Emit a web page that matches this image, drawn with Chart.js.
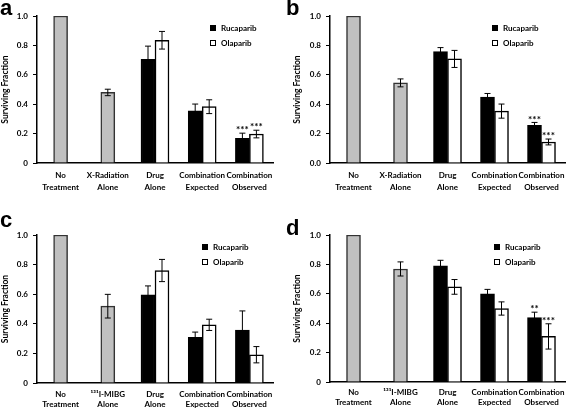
<!DOCTYPE html>
<html>
<head>
<meta charset="utf-8">
<script src="https://cdn.jsdelivr.net/npm/chart.js@4.4.1/dist/chart.umd.min.js"></script>
<style>
  html, body { margin: 0; padding: 0; background: #fff; }
  #wrap { position: relative; width: 568px; height: 409px; overflow: hidden; }
  canvas { position: absolute; }
</style>
</head>
<body>
<div id="wrap">
  <canvas id="pa" width="284" height="205" style="left:0;top:0"></canvas>
  <canvas id="pb" width="284" height="205" style="left:284px;top:0"></canvas>
  <canvas id="pc" width="284" height="204" style="left:0;top:205px"></canvas>
  <canvas id="pd" width="284" height="204" style="left:284px;top:205px"></canvas>
</div>
<script>
// categories
const labelsXR = [["No", "Treatment"], ["X-Radiation", "Alone"], ["Drug", "Alone"], ["Combination", "Expected"], ["Combination", "Observed"]];
const labelsMIBG = [["No", "Treatment"], ["¹³¹I-MIBG", "Alone"], ["Drug", "Alone"], ["Combination", "Expected"], ["Combination", "Observed"]];

// panel a
const aAlone = [1.0, 0.48, null, null, null];
const aAloneErr = [0, 0.022, 0, 0, 0];
const aRuca = [null, null, 0.705, 0.355, 0.168];
const aRucaErr = [0, 0, 0.09, 0.046, 0.035];
const aOla = [null, null, 0.835, 0.383, 0.197];
const aOlaErr = [0, 0, 0.06, 0.047, 0.026];
const aRucaStars = ["", "", "", "", "***"];
const aOlaStars = ["", "", "", "", "***"];

// panel b
const bAlone = [1.0, 0.545, null, null, null];
const bAloneErr = [0, 0.027, 0, 0, 0];
const bRuca = [null, null, 0.758, 0.448, 0.256];
const bRucaErr = [0, 0, 0.027, 0.025, 0.02];
const bOla = [null, null, 0.708, 0.353, 0.143];
const bOlaErr = [0, 0, 0.058, 0.048, 0.02];
const bRucaStars = ["", "", "", "", "***"];
const bOlaStars = ["", "", "", "", "***"];

// panel c
const cAlone = [1.0, 0.519, null, null, null];
const cAloneErr = [0, 0.08, 0, 0, 0];
const cRuca = [null, null, 0.596, 0.308, 0.357];
const cRucaErr = [0, 0, 0.06, 0.036, 0.13];
const cOla = [null, null, 0.76, 0.393, 0.191];
const cOlaErr = [0, 0, 0.075, 0.038, 0.055];
const cRucaStars = ["", "", "", "", ""];
const cOlaStars = ["", "", "", "", ""];

// panel d
const dAlone = [1.0, 0.769, null, null, null];
const dAloneErr = [0, 0.048, 0, 0, 0];
const dRuca = [null, null, 0.79, 0.60, 0.439];
const dRucaErr = [0, 0, 0.038, 0.03, 0.036];
const dOla = [null, null, 0.647, 0.50, 0.31];
const dOlaErr = [0, 0, 0.05, 0.045, 0.086];
const dRucaStars = ["", "", "", "", "**"];
const dOlaStars = ["", "", "", "", "***"];

const yTicks = [0, 0.2, 0.4, 0.6, 0.8, 1.0];

Chart.defaults.font.family = "Lato, 'Liberation Sans', sans-serif";
Chart.defaults.color = "#000";

// error bars + significance stars, drawn from the bar elements and the y scale
const errorBars = {
  id: "errorBars",
  afterDatasetsDraw(chart) {
    const ctx = chart.ctx, y = chart.scales.y;
    chart.data.datasets.forEach((ds, di) => {
      const meta = chart.getDatasetMeta(di);
      meta.data.forEach((bar, i) => {
        const v = ds.data[i];
        if (v == null) return;
        const e = ds.errors[i];
        const x = bar.x;
        const top = y.getPixelForValue(v + e);
        const bot = y.getPixelForValue(v - e);
        ctx.save();
        if (e) {
          ctx.strokeStyle = "#000";
          ctx.lineWidth = 1;
          ctx.beginPath();
          ctx.moveTo(x, top); ctx.lineTo(x, bot);
          ctx.moveTo(x - 3, top); ctx.lineTo(x + 3, top);
          ctx.moveTo(x - 3, bot); ctx.lineTo(x + 3, bot);
          ctx.stroke();
        }
        const star = ds.stars && ds.stars[i];
        if (star) {
          ctx.fillStyle = "#000";
          ctx.font = "bold 10px Lato";
          ctx.textAlign = "center";
          ctx.textBaseline = "bottom";
          ctx.fillText(star, x, top + 2);
        }
        ctx.restore();
      });
    });
  }
};

// small box legend inside the plot area
const boxLegend = {
  id: "boxLegend",
  afterDraw(chart, args, opts) {
    const a = chart.chartArea, ctx = chart.ctx;
    ctx.save();
    chart.data.datasets.filter(d => d.inLegend).forEach((ds, k) => {
      const bx = a.left + opts.x, cy = a.top + opts.y + k * 15;
      ctx.fillStyle = ds.backgroundColor;
      ctx.fillRect(bx, cy - 3, 6, 6);
      ctx.strokeStyle = "#000";
      ctx.lineWidth = 1;
      ctx.strokeRect(bx + 0.5, cy - 2.5, 5, 5);
      ctx.fillStyle = "#000";
      ctx.font = "bold 8px Lato";
      ctx.textBaseline = "middle";
      ctx.fillText(ds.label, bx + 11, cy);
    });
    ctx.restore();
  }
};

const panelLetter = {
  id: "panelLetter",
  afterDraw(chart, args, opts) {
    const ctx = chart.ctx;
    ctx.save();
    ctx.fillStyle = "#000";
    ctx.font = "bold 22px 'Liberation Sans', Arial, sans-serif";
    ctx.textBaseline = "alphabetic";
    ctx.fillText(opts.text, opts.x, opts.y);
    ctx.restore();
  }
};

function makePanel(id, labels, alone, aloneErr, ruca, rucaErr, ola, olaErr, rucaStars, olaStars, look) {
  const common = { barThickness: 14, skipNull: true, borderWidth: 1.5, borderSkipped: "start" };
  new Chart(document.getElementById(id), {
    type: "bar",
    data: {
      labels: labels,
      datasets: [
        Object.assign({ label: "Alone", data: alone, errors: aloneErr, backgroundColor: "#c0c0c0", borderColor: "#333" }, common),
        Object.assign({ label: "Rucaparib", data: ruca, errors: rucaErr, stars: rucaStars, inLegend: true, backgroundColor: "#000", borderColor: "#000" }, common),
        Object.assign({ label: "Olaparib", data: ola, errors: olaErr, stars: olaStars, inLegend: true, backgroundColor: "#fff", borderColor: "#000" }, common)
      ]
    },
    options: {
      responsive: false,
      animation: false,
      devicePixelRatio: 1,
      layout: { padding: { left: look.padLeft, top: look.padTop, right: look.padRight, bottom: 0 } },
      plugins: {
        legend: { display: false },
        tooltip: { enabled: false },
        boxLegend: { x: look.legendX, y: 12 },
        panelLetter: { text: look.letter, x: look.letterX, y: look.letterY }
      },
      scales: {
        x: {
          offset: true,
          grid: { display: false, drawTicks: false },
          border: { display: true, color: "#000", width: 1.5 },
          ticks: { autoSkip: false, maxRotation: 0, minRotation: 0, padding: look.labelPad, color: "#000", font: { size: 8, weight: "bold", lineHeight: look.labelLine } },
          afterFit: s => { s.height = look.xHeight; s.paddingLeft = 0; s.paddingRight = 0; }
        },
        y: {
          min: 0, max: 1,
          afterBuildTicks: s => { s.ticks = yTicks.map(v => ({ value: v })); },
          grid: { display: true, drawOnChartArea: false, drawTicks: true, tickLength: 4, color: "#000" },
          border: { display: true, color: "#000", width: 1.5 },
          ticks: {
            padding: 5, color: "#000", font: { size: 8, weight: "bold" },
            callback: v => v === 0 ? look.zero : v.toFixed(1)
          },
          title: { display: true, text: "Surviving Fraction", color: "#000", font: { size: 8.5, weight: "bold" }, padding: 0 },
          afterFit: s => { s.width = look.yWidth; }
        }
      }
    },
    plugins: [errorBars, boxLegend, panelLetter]
  });
}

makePanel("pa", labelsXR, aAlone, aAloneErr, aRuca, aRucaErr, aOla, aOlaErr, aRucaStars, aOlaStars,
  { padLeft: 0, padTop: 16, padRight: 11, xHeight: 42, yWidth: 37, zero: "0", legendX: 173, letter: "a", letterX: 0, letterY: 15, labelPad: 7, labelLine: 1.45 });
makePanel("pb", labelsXR, bAlone, bAloneErr, bRuca, bRucaErr, bOla, bOlaErr, bRucaStars, bOlaStars,
  { padLeft: 8, padTop: 16, padRight: 3, xHeight: 42, yWidth: 38, zero: "0.0", legendX: 162, letter: "b", letterX: 2, letterY: 15, labelPad: 7, labelLine: 1.45 });
makePanel("pc", labelsMIBG, cAlone, cAloneErr, cRuca, cRucaErr, cOla, cOlaErr, cRucaStars, cOlaStars,
  { padLeft: 0, padTop: 30, padRight: 11, xHeight: 26, yWidth: 37, zero: "0", legendX: 165, letter: "c", letterX: 0, letterY: 22, labelPad: 6, labelLine: 1.3 });
makePanel("pd", labelsMIBG, dAlone, dAloneErr, dRuca, dRucaErr, dOla, dOlaErr, dRucaStars, dOlaStars,
  { padLeft: 8, padTop: 30, padRight: 3, xHeight: 27, yWidth: 38, zero: "0", legendX: 164, letter: "d", letterX: 2, letterY: 30, labelPad: 5, labelLine: 1.3 });
</script>
</body>
</html>
